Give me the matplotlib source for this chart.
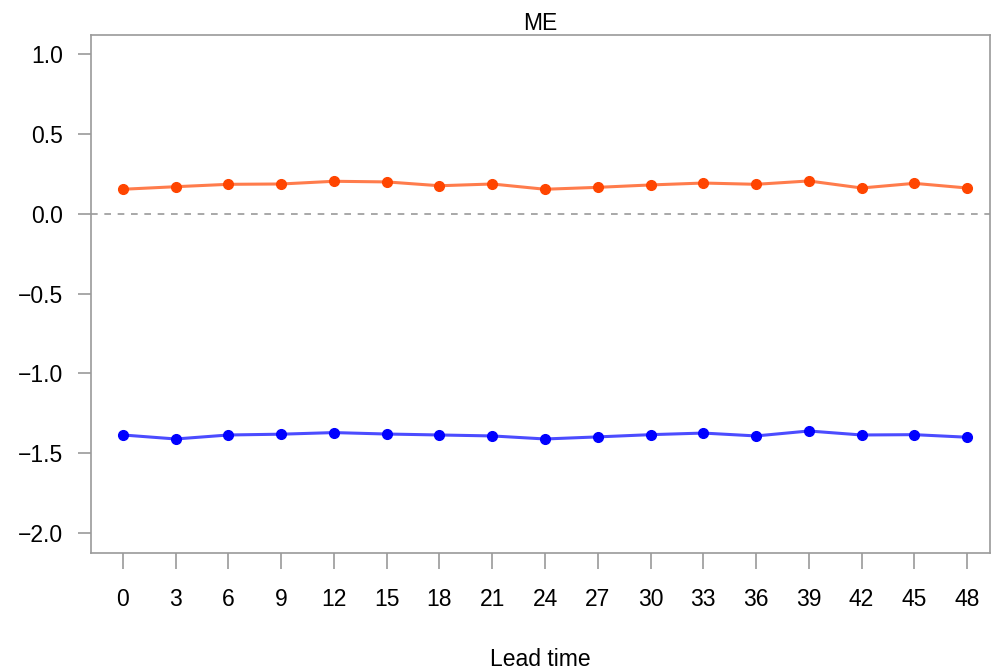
import matplotlib

matplotlib.use("Agg")
import matplotlib.pyplot as plt

plt.rcParams["font.family"] = ["Liberation Sans", "DejaVu Sans"]

lead_time = [0, 3, 6, 9, 12, 15, 18, 21, 24, 27, 30, 33, 36, 39, 42, 45, 48]
me_red = [0.153, 0.169, 0.184, 0.186, 0.203, 0.199, 0.175, 0.186, 0.153,
          0.165, 0.180, 0.192, 0.184, 0.205, 0.161, 0.190, 0.161]
me_blue = [-1.386, -1.411, -1.386, -1.381, -1.371, -1.380, -1.386, -1.392, -1.411,
           -1.398, -1.384, -1.374, -1.392, -1.361, -1.386, -1.384, -1.400]
y_ticks = [1.0, 0.5, 0.0, -0.5, -1.0, -1.5, -2.0]


def main() -> None:
    fig = plt.figure(figsize=(9.94, 6.71), dpi=100)
    ax = fig.add_axes([0.0915, 0.1759, 0.9044, 0.7719])

    ax.axhline(0, color="#999999", linestyle=(0, (4, 4)), linewidth=1.2, zorder=1)
    ax.plot(lead_time, me_red, color="#ff4500", linewidth=2.2, alpha=0.7, zorder=2)
    ax.plot(lead_time, me_red, "o", color="#ff4500", markersize=7, zorder=3)
    ax.plot(lead_time, me_blue, color="#0000ff", linewidth=2.2, alpha=0.7, zorder=2)
    ax.plot(lead_time, me_blue, "o", color="#0000ff", markersize=7, zorder=3)

    ax.set_xlim(-1.82, 49.3)
    ax.set_ylim(-2.125, 1.119)
    ax.set_xticks(lead_time)
    ax.set_yticks(y_ticks)
    ax.set_yticklabels([f"{v:.1f}".replace("-", "\u2212") for v in y_ticks])

    for side in ax.spines.values():
        side.set_color("#9a9a9a")
        side.set_linewidth(1.2)
    ax.tick_params(axis="x", length=11.5, width=1.2, color="#9a9a9a", pad=13.5, labelsize=16.5)
    ax.tick_params(axis="y", length=9.5, width=1.2, color="#9a9a9a", pad=10.5, labelsize=16.5)

    ax.set_title("ME", fontsize=16.5, pad=2.5)
    ax.set_xlabel("Lead time", fontsize=16.5, labelpad=27)

    fig.savefig("out.png", dpi=100)
    plt.close(fig)


if __name__ == "__main__":
    main()
